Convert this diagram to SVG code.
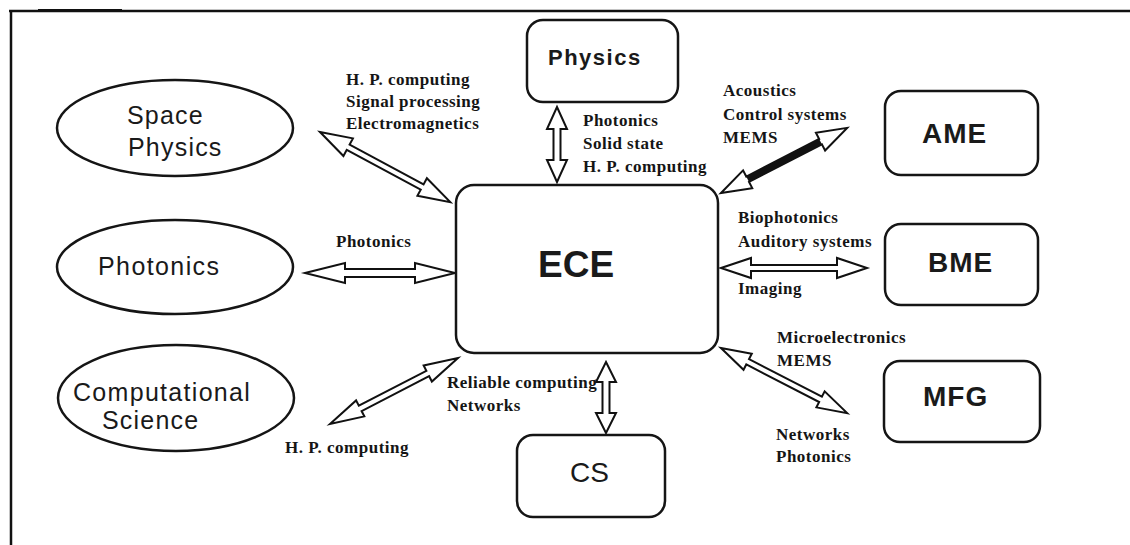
<svg xmlns="http://www.w3.org/2000/svg" width="1130" height="545" viewBox="0 0 1130 545">
<style>
.bg{fill:#ffffff}
.frame{stroke:#111;stroke-width:2.5;fill:none}
.node{fill:#fff;stroke:#151515;stroke-width:2.5}
.sans{font-family:"Liberation Sans",Arial,sans-serif;fill:#1a1a1a}
.lbl{font-family:"Liberation Serif","Times New Roman",serif;font-weight:bold;font-size:17px;letter-spacing:0.5px;fill:#151515}
.arr{fill:#fff;stroke:#111;stroke-width:2;stroke-linejoin:miter;stroke-miterlimit:6}
.shaft{fill:#111}
</style>
<rect class="bg" x="0" y="0" width="1130" height="545"/>
<g id="frame">
<line class="frame" x1="9" y1="11" x2="1130" y2="11"/>
<line class="frame" x1="11" y1="10" x2="11" y2="545"/>
<line x1="38" y1="10" x2="122" y2="10" stroke="#111" stroke-width="2"/>
</g>
<g id="connectors">
<polygon class="arr" transform="translate(320,132) rotate(28.3)" points="0,0 32,-10 32,-3 116,-3 116,-10 148,0 116,10 116,3 32,3 32,10"/>
<polygon class="arr" transform="translate(305,273)" points="0,0 40,-10 40,-4 110,-4 110,-10 150,0 110,10 110,4 40,4 40,10"/>
<polygon class="arr" transform="translate(330,424) rotate(-27.3)" points="0,0 34,-9 34,-3 110,-3 110,-9 144,0 110,9 110,3 34,3 34,9"/>
<polygon class="arr" transform="translate(557,107) rotate(90)" points="0,0 22,-10 22,-3.5 53,-3.5 53,-10 75,0 53,10 53,3.5 22,3.5 22,10"/>
<g transform="translate(721,193) rotate(-27.3)">
<polygon class="arr" points="0,0 30,-10 30,-3 112,-3 112,-10 142,0 112,10 112,3 30,3 30,10"/>
<rect class="shaft" x="30" y="-3" width="82" height="6"/>
</g>
<polygon class="arr" transform="translate(721,268)" points="0,0 30,-10 30,-3 116,-3 116,-10 146,0 116,10 116,3 30,3 30,10"/>
<polygon class="arr" transform="translate(721,348) rotate(27.3)" points="0,0 30,-9 30,-3 112,-3 112,-9 142,0 112,9 112,3 30,3 30,9"/>
<polygon class="arr" transform="translate(606,362) rotate(90)" points="0,0 20,-10 20,-3.5 51,-3.5 51,-10 71,0 51,10 51,3.5 20,3.5 20,10"/>
</g>
<g id="labels">
<text class="lbl" x="346" y="85">H. P. computing</text>
<text class="lbl" x="346" y="107">Signal processing</text>
<text class="lbl" x="346" y="129">Electromagnetics</text>
<text class="lbl" x="583" y="126">Photonics</text>
<text class="lbl" x="583" y="149">Solid state</text>
<text class="lbl" x="583" y="172">H. P. computing</text>
<text class="lbl" x="723" y="96">Acoustics</text>
<text class="lbl" x="723" y="120">Control systems</text>
<text class="lbl" x="723" y="143">MEMS</text>
<text class="lbl" x="738" y="223">Biophotonics</text>
<text class="lbl" x="738" y="247">Auditory systems</text>
<text class="lbl" x="738" y="294">Imaging</text>
<text class="lbl" x="336" y="247">Photonics</text>
<text class="lbl" x="447" y="388">Reliable computing</text>
<text class="lbl" x="447" y="411">Networks</text>
<text class="lbl" x="285" y="453">H. P. computing</text>
<text class="lbl" x="777" y="343">Microelectronics</text>
<text class="lbl" x="777" y="366">MEMS</text>
<text class="lbl" x="776" y="440">Networks</text>
<text class="lbl" x="776" y="462">Photonics</text>
</g>
<g id="space-physics">
<ellipse class="node" cx="175" cy="128" rx="118" ry="48"/>
<text class="sans" x="127" y="124" font-size="25" letter-spacing="1.2">Space</text>
<text class="sans" x="128" y="156" font-size="25" letter-spacing="1.2">Physics</text>
</g>
<g id="photonics">
<ellipse class="node" cx="175" cy="267" rx="118" ry="47"/>
<text class="sans" x="98" y="275" font-size="25" letter-spacing="1.4">Photonics</text>
</g>
<g id="computational-science">
<ellipse class="node" cx="176" cy="398" rx="118" ry="53"/>
<text class="sans" x="73" y="401" font-size="25" letter-spacing="1.3">Computational</text>
<text class="sans" x="102" y="429" font-size="25" letter-spacing="1.2">Science</text>
</g>
<g id="physics">
<rect class="node" x="527" y="20" width="151" height="82" rx="16"/>
<text class="sans" x="548" y="65" font-size="22" font-weight="bold" letter-spacing="1.5">Physics</text>
</g>
<g id="ece">
<rect class="node" x="456" y="185" width="262" height="168" rx="18"/>
<text class="sans" x="538" y="277" font-size="37" font-weight="bold">ECE</text>
</g>
<g id="ame">
<rect class="node" x="885" y="91" width="153" height="84" rx="16"/>
<text class="sans" x="922" y="143" font-size="28" font-weight="bold" letter-spacing="1">AME</text>
</g>
<g id="bme">
<rect class="node" x="885" y="224" width="153" height="81" rx="16"/>
<text class="sans" x="928" y="272" font-size="28" font-weight="bold" letter-spacing="1">BME</text>
</g>
<g id="mfg">
<rect class="node" x="884" y="361" width="156" height="81" rx="16"/>
<text class="sans" x="923" y="406" font-size="28" font-weight="bold" letter-spacing="1">MFG</text>
</g>
<g id="cs">
<rect class="node" x="517" y="435" width="148" height="82" rx="16"/>
<text class="sans" x="570" y="482" font-size="28">CS</text>
</g>
</svg>
